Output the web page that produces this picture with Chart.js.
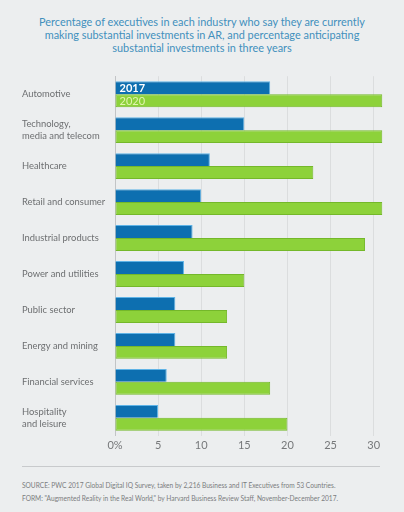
<!DOCTYPE html>
<html>
<head>
<meta charset="utf-8">
<script src="https://cdn.jsdelivr.net/npm/chart.js@4"></script>
<style>
  html, body { margin: 0; padding: 0; }
  body {
    width: 404px; height: 512px; overflow: hidden; position: relative;
    background: #eceeef;
    font-family: Lato, sans-serif;
  }
  .title {
    position: absolute; top: 16px; left: 0; width: 404px;
    text-align: center; color: #4290bd;
    font-size: 10.9px; line-height: 12.8px;
  }
  .chart-box { position: absolute; top: 58px; left: 0; width: 404px; height: 400px; }
  .rule { position: absolute; top: 466px; left: 22px; width: 358px; height: 1px; background: #c8cacc; }
  .source {
    position: absolute; top: 479px; left: 22px; width: 370px;
    color: #7a7c7e; font-size: 6.6px; line-height: 13px; white-space: nowrap;
  }
</style>
</head>
<body>
<div class="title">Percentage of executives in each industry who say they are currently<br>making substantial investments in AR, and percentage anticipating<br>substantial investments in three years</div>
<div class="chart-box"><canvas id="arChart"></canvas></div>
<div class="rule"></div>
<div class="source">SOURCE: PWC 2017 Global Digital IQ Survey, taken by 2,216 Business and IT Executives from 53 Countries.<br>FORM: "Augmented Reality in the Real World," by Harvard Business Review Staff, November-December 2017.</div>

<script>
'use strict';

// industries, top to bottom
let industries = [
  'Automotive',
  ['Technology,', 'media and telecom'],
  'Healthcare',
  'Retail and consumer',
  'Industrial products',
  'Power and utilities',
  'Public sector',
  'Energy and mining',
  'Financial services',
  ['Hospitality', 'and leisure']
];

// % of executives
let values2017 = [18, 15, 11, 10, 9, 8, 7, 7, 6, 5];
let values2020 = [31, 31, 23, 31, 29, 15, 13, 13, 18, 20];

let seriesNames = ['2017', '2020'];
let tickValues = [0, 5, 10, 15, 20, 25, 30];

// write the series names inside the first pair of bars
const barLabels = {
  id: 'barLabels',
  afterDatasetsDraw(chart) {
    const ctx = chart.ctx;
    const colors = ['#ffffff', '#e2f4b0'];
    ctx.save();
    ctx.textBaseline = 'middle';
    for (let i = 0; i < seriesNames.length; i++) {
      let bar = chart.getDatasetMeta(i).data[0];
      ctx.font = (i === 0 ? 'bold ' : '') + '11px Lato';
      ctx.fillStyle = colors[i];
      ctx.fillText(seriesNames[i], bar.base + 4, bar.y + 0.5);
    }
    ctx.restore();
  }
};

const ctx = document.getElementById('arChart').getContext('2d');

const arChart = new Chart(ctx, {
  type: 'bar',
  data: {
    labels: industries,
    datasets: [
      {
        label: seriesNames[0],
        data: values2017,
        backgroundColor: '#0d6fb0',
        borderColor: '#5fb3e6',
        borderWidth: { top: 1, right: 1, bottom: 0, left: 0 },
        borderSkipped: false,
        categoryPercentage: 0.72,
        barPercentage: 1.0
      },
      {
        label: seriesNames[1],
        data: values2020,
        backgroundColor: '#8dd23a',
        borderColor: '#74b82a',
        borderWidth: 1,
        borderSkipped: false,
        categoryPercentage: 0.72,
        barPercentage: 1.0
      }
    ]
  },
  options: {
    indexAxis: 'y',
    responsive: true,
    maintainAspectRatio: false,
    animation: false,
    layout: { padding: { top: 7, right: 20, bottom: 3, left: 22 } },
    plugins: {
      legend: { display: false },
      tooltip: { enabled: false }
    },
    scales: {
      x: {
        min: 0,
        max: 31.2,
        afterBuildTicks: (scale) => {
          scale.ticks = tickValues.map(v => ({ value: v }));
        },
        ticks: {
          color: '#76787a',
          padding: 3,
          font: { family: 'Lato', size: 11 },
          callback: (v) => v === 0 ? '0%' : v
        },
        grid: { color: 'rgba(0,0,0,0.07)', drawTicks: false },
        border: { display: false }
      },
      y: {
        afterFit: (scale) => { scale.width = 93; },
        ticks: {
          crossAlign: 'far',
          color: '#6d6f71',
          padding: 6,
          font: { family: 'Lato', size: 9.4, lineHeight: 1.3 }
        },
        grid: { display: false },
        border: { display: true, color: '#c2c4c6', width: 1 }
      }
    }
  },
  plugins: [barLabels]
});
</script>
</body>
</html>
